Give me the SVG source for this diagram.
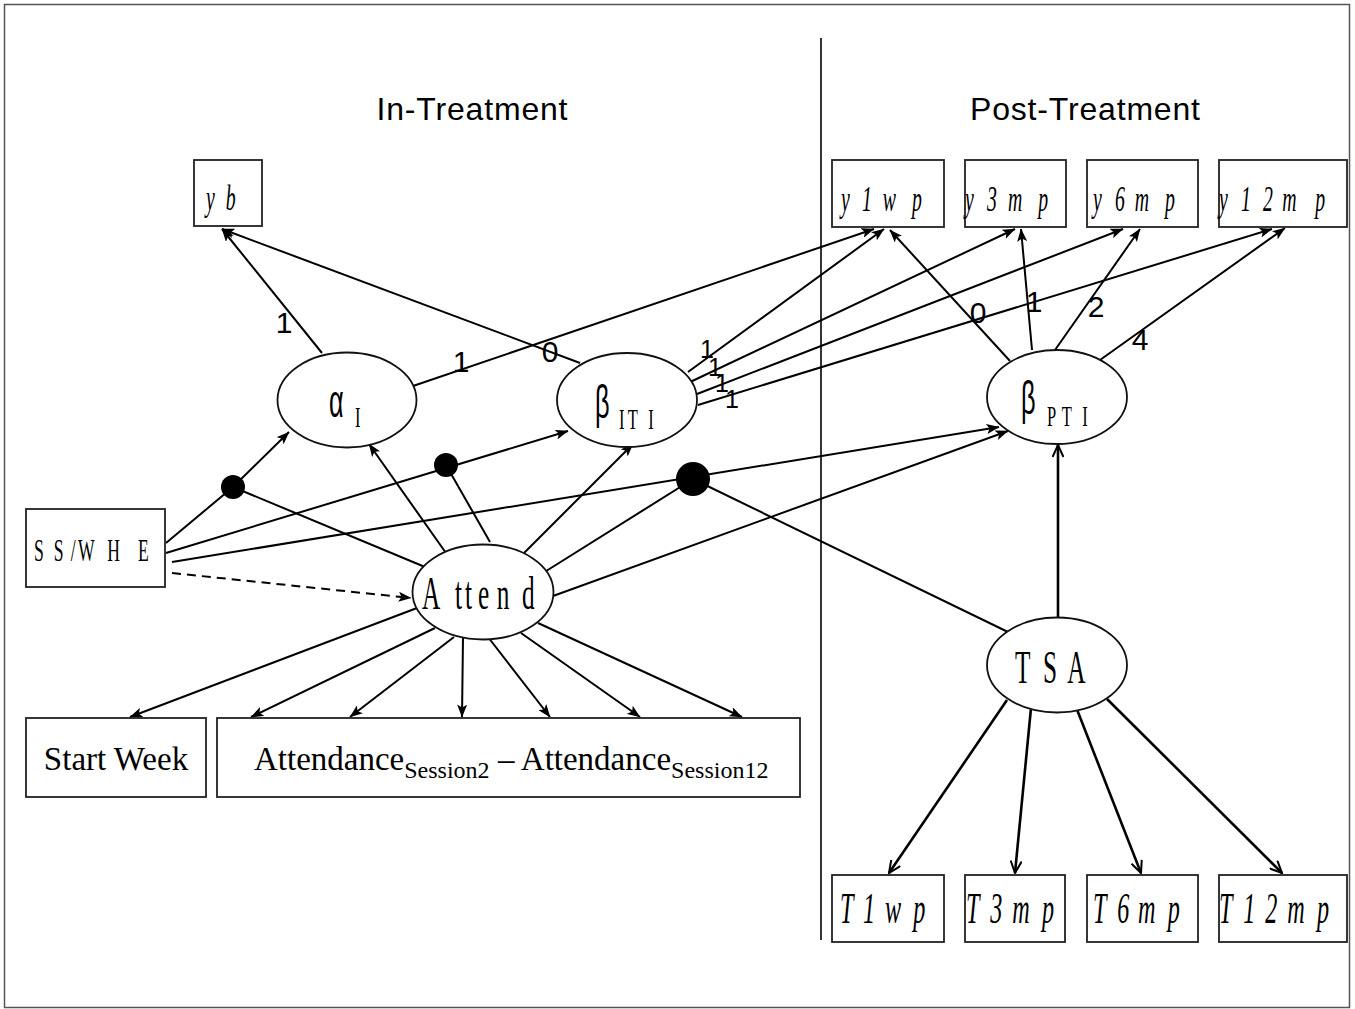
<svg xmlns="http://www.w3.org/2000/svg" width="1355" height="1009" viewBox="0 0 1355 1009">
<style>
.box{fill:#fff;stroke:#222;stroke-width:1.8}
.ell{fill:#fff;stroke:#111;stroke-width:1.8}
.ln{stroke:#000;stroke-width:2;fill:none}
.arr{marker-end:url(#ah)}
.opn{marker-end:url(#oh);stroke-width:2.6}
.num{font-family:"Liberation Sans",Arial,sans-serif;font-size:30px;text-anchor:middle}
.sm{font-size:25px}
.ti{font-family:"Liberation Serif","Times New Roman",serif;font-style:italic;font-size:36px}
.tT{font-family:"Liberation Serif","Times New Roman",serif;font-style:italic;font-size:44px}
.up{font-family:"Liberation Serif","Times New Roman",serif;font-size:32px}
.big{font-family:"Liberation Serif","Times New Roman",serif;font-size:46px}
.gk{font-family:"Liberation Sans",Arial,sans-serif;font-size:46px}
.sub{font-family:"Liberation Serif","Times New Roman",serif;font-size:30px}
.rm{font-family:"Liberation Serif","Times New Roman",serif;font-size:33px}
.ttl{font-family:"Liberation Sans",Arial,sans-serif;font-size:32px;text-anchor:middle}
</style>
<defs>
<marker id="ah" viewBox="0 0 13 10" refX="12.5" refY="5" markerWidth="13" markerHeight="10" markerUnits="userSpaceOnUse" orient="auto"><path d="M0,0 L13,5 L0,10 L3,5 z" fill="#000"/></marker>
<marker id="oh" viewBox="0 0 14 12" refX="13" refY="6" markerWidth="14" markerHeight="12" markerUnits="userSpaceOnUse" orient="auto"><path d="M1,0.5 L13,6 L1,11.5" fill="none" stroke="#000" stroke-width="2"/></marker>
</defs>
<rect x="0" y="0" width="1355" height="1009" fill="#fff"/>
<rect x="4.5" y="4.5" width="1345" height="1003" fill="none" stroke="#555" stroke-width="1.5"/>
<line x1="821" y1="38" x2="821" y2="940" stroke="#000" stroke-width="1.6"/>
<text class="ttl" x="472" y="120" textLength="191">In-Treatment</text>
<text class="ttl" x="1085" y="120" textLength="230">Post-Treatment</text>

<g id="connectors">
<path class="ln arr" d="M322,353 L222,229"/>
<path class="ln arr" d="M580,363 L222,229"/>
<path class="ln arr" d="M413,386 L874,229"/>
<path class="ln arr" d="M688,372 L884,229"/>
<path class="ln arr" d="M688,383 L1015,229"/>
<path class="ln arr" d="M697,394 L1123,229"/>
<path class="ln arr" d="M698,405 L1272,229"/>
<path class="ln arr" d="M1010,361 L890,230"/>
<path class="ln arr" d="M1032,350 L1021,229"/>
<path class="ln arr" d="M1055,350 L1140,229"/>
<path class="ln arr" d="M1100,360 L1285,228"/>
<path class="ln arr" d="M166,543 L233,487 L289,432"/>
<path class="ln arr" d="M166,553 L568,431"/>
<path class="ln arr" d="M172,562 L999,427"/>
<path class="ln arr" d="M172,573 L411,598" stroke-dasharray="9,6"/>
<path class="ln" d="M233,487 L425,567"/>
<path class="ln arr" d="M446,553 L369,444" stroke-width="3"/>
<path class="ln" d="M490,542 L446,465"/>
<path class="ln arr" d="M524,553 L633,444"/>
<path class="ln" d="M543,573 L693,479"/>
<path class="ln arr" d="M553,596 L1008,431"/>
<path class="ln" d="M693,479 L1008,632"/>
<path class="ln opn" d="M1058,618 L1058,445" stroke-width="2"/>
<path class="ln arr" d="M417,608 L130,717"/>
<path class="ln arr" d="M435,628 L251,717"/>
<path class="ln arr" d="M454,637 L350,717"/>
<path class="ln arr" d="M463,637 L462,717"/>
<path class="ln arr" d="M488,637 L550,717"/>
<path class="ln arr" d="M521,633 L640,717"/>
<path class="ln arr" d="M538,623 L742,717"/>
<path class="ln opn" d="M1007,700 L889,873"/>
<path class="ln opn" d="M1031,708 L1015,873"/>
<path class="ln opn" d="M1076,707 L1141,873"/>
<path class="ln opn" d="M1107,699 L1282,873"/>
<circle cx="233" cy="487" r="12"/>
<circle cx="446" cy="465" r="12"/>
<circle cx="693" cy="479" r="17"/>
<text class="num" x="284" y="333">1</text>
<text class="num" x="550" y="362">0</text>
<text class="num" x="461" y="372">1</text>
<text class="num sm" x="707" y="358">1</text>
<text class="num sm" x="715" y="376">1</text>
<text class="num sm" x="722" y="392">1</text>
<text class="num sm" x="732" y="408">1</text>
<text class="num" x="978" y="323">0</text>
<text class="num" x="1034" y="312">1</text>
<text class="num" x="1096" y="317">2</text>
<text class="num" x="1140" y="350">4</text>
</g>

<g id="yb"><rect class="box" x="194" y="160" width="68" height="66"/><text class="ti" transform="translate(206,210) scale(0.55,1)" x="0 36" y="0">yb</text></g>
<g id="y1wp"><rect class="box" x="832" y="160" width="112" height="67"/><text class="ti" transform="translate(841,211) scale(0.55,1)" x="0 38 76 129" y="0">y1wp</text></g>
<g id="y3mp"><rect class="box" x="965" y="160" width="101" height="67"/><text class="ti" transform="translate(965,211) scale(0.55,1)" x="0 40 78 133" y="0">y3mp</text></g>
<g id="y6mp"><rect class="box" x="1087" y="160" width="111" height="67"/><text class="ti" transform="translate(1093,211) scale(0.55,1)" x="0 40 76 131" y="0">y6mp</text></g>
<g id="y12mp"><rect class="box" x="1219" y="160" width="128" height="67"/><text class="ti" transform="translate(1219,211) scale(0.55,1)" x="0 40 80 115 175" y="0">y12mp</text></g>

<g id="T1wp"><rect class="box" x="832" y="875" width="112" height="67"/><text class="tT" transform="translate(840,923) scale(0.55,1)" x="0 42 82 133" y="0">T1wp</text></g>
<g id="T3mp"><rect class="box" x="965" y="875" width="100" height="67"/><text class="tT" transform="translate(966,923) scale(0.55,1)" x="0 44 84 138" y="0">T3mp</text></g>
<g id="T6mp"><rect class="box" x="1087" y="875" width="111" height="67"/><text class="tT" transform="translate(1093,923) scale(0.55,1)" x="0 44 82 136" y="0">T6mp</text></g>
<g id="T12mp"><rect class="box" x="1219" y="875" width="128" height="67"/><text class="tT" transform="translate(1219,923) scale(0.55,1)" x="0 44 84 124 178" y="0">T12mp</text></g>

<g id="alphaI"><ellipse class="ell" cx="347" cy="400" rx="69.5" ry="47.5"/><text class="gk" transform="translate(329,417) scale(0.55,1)">α</text><text class="sub" transform="translate(355,427) scale(0.55,1)">I</text></g>
<g id="betaITI"><ellipse class="ell" cx="627" cy="400" rx="70" ry="47"/><text class="gk" transform="translate(595,418) scale(0.55,1)">β</text><text class="sub" transform="translate(619,429) scale(0.55,1)" x="0 16 53" y="0">ITI</text></g>
<g id="betaPTI"><ellipse class="ell" cx="1057" cy="397" rx="70" ry="47"/><text class="gk" transform="translate(1021,414) scale(0.55,1)">β</text><text class="sub" transform="translate(1047,426) scale(0.55,1)" x="0 27 64" y="0">PTI</text></g>
<g id="ssweh"><rect class="box" x="26" y="509" width="139" height="78"/><text class="up" transform="translate(34,561) scale(0.55,1)" x="0 36 67 80 133 189" y="0">SS/WHE</text></g>
<g id="attend"><ellipse class="ell" cx="483" cy="592" rx="70.5" ry="47.5"/><text class="big" transform="translate(422,609) scale(0.55,1)" x="0 60 78 102 136 182" y="0">Attend</text></g>
<g id="tsa"><ellipse class="ell" cx="1057" cy="665" rx="70" ry="47.5"/><text class="big" transform="translate(1015,683) scale(0.55,1)" x="0 51 95" y="0">TSA</text></g>
<g id="startweek"><rect class="box" x="26" y="718" width="180" height="79"/><text class="rm" x="116" y="770" text-anchor="middle">Start Week</text></g>
<g id="attendance"><rect class="box" x="217" y="718" width="583" height="79"/><text class="rm" x="254" y="770">Attendance<tspan font-size="24" dy="8">Session2</tspan><tspan dy="-8"> – Attendance</tspan><tspan font-size="24" dy="8">Session12</tspan></text></g>
</svg>
